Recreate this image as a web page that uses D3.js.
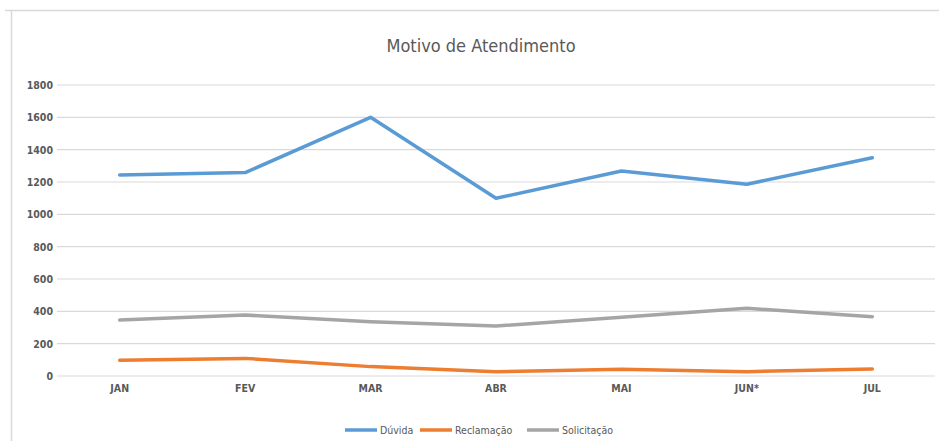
<!DOCTYPE html>
<html><head><meta charset="utf-8">
<script src="https://cdn.jsdelivr.net/npm/d3@7"></script>
<style>
body{margin:0;background:#fff;}
text{font-family:"DejaVu Sans Condensed","DejaVu Sans",sans-serif;}
</style></head><body>
<svg id="c" width="939" height="441"></svg>
<script>
const categories = ["JAN","FEV","MAR","ABR","MAI","JUN*","JUL"];
const duvida = [1243,1258,1600,1099,1268,1186,1350];
const reclamacao = [97,109,58,27,41,27,43];
const solicitacao = [346,377,336,309,363,419,367];
const yTicks = [0,200,400,600,800,1000,1200,1400,1600,1800];
const seriesNames = ["Dúvida","Reclamação","Solicitação"];
const seriesColors = ["#5b9bd5","#ed7d31","#a5a5a5"];
const seriesValues = [duvida, reclamacao, solicitacao];

const FONT = "'DejaVu Sans Condensed','DejaVu Sans',sans-serif";
const svg = d3.select("#c");
// frame
svg.append("path").attr("d","M5,10.5H939M11.5,10V441").attr("stroke","#d9d9d9").attr("stroke-width",1.5).attr("fill","none");

const x = d3.scaleBand().domain(categories).range([57,935]);
const y = d3.scaleLinear().domain([0,1800]).range([376,85]);

// grid
svg.append("g").selectAll("line").data(yTicks).join("line")
  .attr("x1",57).attr("x2",935).attr("y1",d=>y(d)).attr("y2",d=>y(d))
  .attr("stroke","#d9d9d9").attr("stroke-width",1.2);

// y axis labels
const ya = svg.append("g").attr("transform","translate(57,0)")
  .call(d3.axisLeft(y).tickValues(yTicks).tickFormat(d3.format("d")).tickSize(0).tickPadding(4));
ya.select(".domain").remove();
ya.selectAll("text").attr("fill","#595959").style("font-size","10.5px").style("font-weight","bold")
  .style("font-family",FONT);

// x axis labels
const xa = svg.append("g").attr("transform","translate(0,376)")
  .call(d3.axisBottom(x).tickSize(0).tickPadding(9));
xa.select(".domain").remove();
xa.selectAll("text").attr("fill","#595959").style("font-size","10.5px").style("font-weight","bold")
  .style("font-family",FONT);

const line = d3.line().x((d,i)=>x(categories[i])+x.bandwidth()/2).y(d=>y(d));
seriesValues.forEach((vals,k)=>{
  svg.append("path").datum(vals).attr("d",line)
    .attr("fill","none").attr("stroke",seriesColors[k]).attr("stroke-width",3.5)
    .attr("stroke-linejoin","round").attr("stroke-linecap","round");
});

// title
svg.append("text").attr("x",481).attr("y",52).attr("text-anchor","middle")
  .attr("fill","#595959").style("font-size","18px").style("font-weight","normal")
  .style("font-family",FONT).text("Motivo de Atendimento");

// legend
const lg = svg.append("g");
const legendX = [345,420,527];
seriesNames.forEach((n,k)=>{
  lg.append("line").attr("x1",legendX[k]).attr("x2",legendX[k]+32).attr("y1",430).attr("y2",430)
    .attr("stroke",seriesColors[k]).attr("stroke-width",3.5);
  lg.append("text").attr("x",legendX[k]+35).attr("y",434).attr("fill","#595959")
    .style("font-size","10.5px").style("font-weight","normal").style("font-family",FONT).text(n);
});
</script></body></html>
